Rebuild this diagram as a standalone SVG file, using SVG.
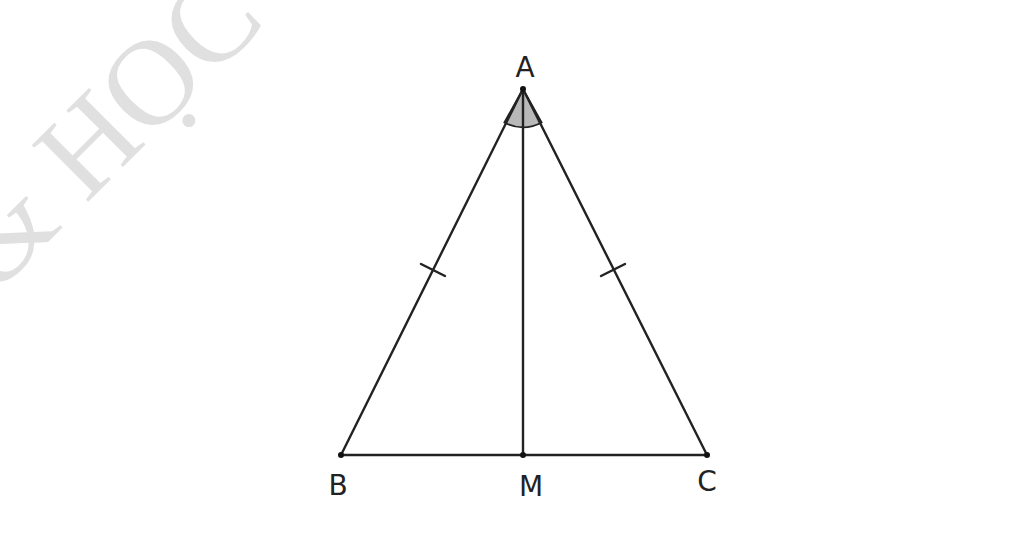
<svg xmlns="http://www.w3.org/2000/svg" width="1024" height="533" viewBox="0 0 1024 533">
<style>
.ln{stroke:#222;stroke-width:2.4;fill:none;stroke-linecap:round}
.lbl{font-family:"DejaVu Sans",Verdana,sans-serif;font-size:28px;fill:#222;text-anchor:middle}
.wm{font-family:"Liberation Serif","Times New Roman",serif;font-size:122px;fill:#e0e0e0}
</style>
<rect width="1024" height="533" fill="#fff"/>
<text class="wm" transform="translate(-3,293) rotate(-45)">&amp; HỌC</text>
<g id="angle">
<path d="M523,89 L504.4,122.5 A38,38 0 0 0 541.6,122.5 Z" fill="#b8b8b8" stroke="#222" stroke-width="1.8"/>
</g>
<g id="connectors">
<line class="ln" x1="523" y1="89" x2="341" y2="455"/>
<line class="ln" x1="523" y1="89" x2="707" y2="455"/>
<line class="ln" x1="341" y1="455" x2="707" y2="455"/>
<line class="ln" x1="523" y1="89" x2="523" y2="455"/>
<line class="ln" x1="421" y1="264" x2="445" y2="276"/>
<line class="ln" x1="601" y1="276" x2="625" y2="264"/>
</g>
<g id="A"><circle cx="523" cy="89" r="3" fill="#111"/><text class="lbl" x="525" y="77">A</text></g>
<g id="B"><circle cx="341" cy="455" r="3" fill="#111"/><text class="lbl" x="338" y="495">B</text></g>
<g id="M"><circle cx="523" cy="455" r="3" fill="#111"/><text class="lbl" x="531" y="496">M</text></g>
<g id="C"><circle cx="707" cy="455" r="3" fill="#111"/><text class="lbl" x="707" y="491">C</text></g>
</svg>
